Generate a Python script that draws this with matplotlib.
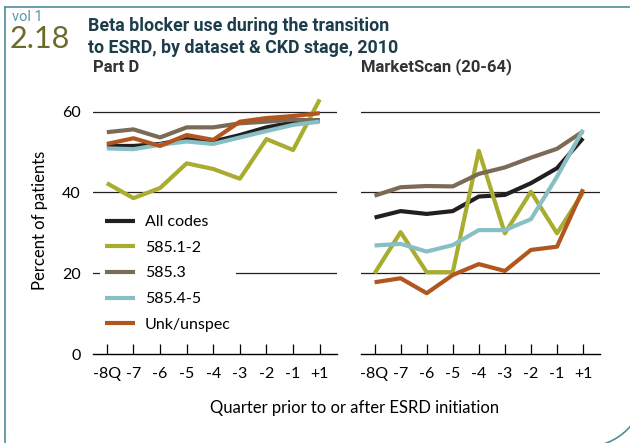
import numpy as np
import matplotlib
matplotlib.use("Agg")
import matplotlib.pyplot as plt
from matplotlib.patches import Arc
from matplotlib.lines import Line2D

# ── data ────────────────────────────────────────────────────────────
quarters = ["-8Q", "-7", "-6", "-5", "-4", "-3", "-2", "-1", "+1"]
series_names = ["All codes", "585.1-2", "585.3", "585.4-5", "Unk/unspec"]
series_colors = ["#231f20", "#a9ad2f", "#7b6a55", "#88bfc5", "#b2561f"]

partd_all = [51.5, 51.5, 52.0, 53.2, 52.6, 54.2, 56.1, 57.3, 57.9]
partd_5851 = [42.3, 38.6, 41.1, 47.2, 45.8, 43.4, 53.2, 50.5, 63.0]
partd_5853 = [54.9, 55.6, 53.6, 56.1, 56.1, 57.1, 57.5, 58.0, 57.8]
partd_5854 = [50.9, 50.7, 51.8, 52.6, 52.0, 53.6, 55.2, 56.7, 57.5]
partd_unk = [52.0, 53.4, 51.5, 54.2, 53.0, 57.5, 58.4, 58.9, 59.6]

ms_all = [33.8, 35.4, 34.7, 35.4, 39.0, 39.4, 42.3, 46.0, 53.4]
ms_5851 = [20.0, 30.2, 20.3, 20.3, 50.3, 29.9, 40.2, 29.9, 40.0]
ms_5853 = [39.2, 41.3, 41.6, 41.5, 44.6, 46.2, 48.6, 50.8, 55.1]
ms_5854 = [26.9, 27.3, 25.4, 27.0, 30.7, 30.7, 33.4, 43.9, 55.5]
ms_unk = [17.8, 18.8, 15.1, 19.6, 22.3, 20.6, 25.8, 26.6, 40.8]

yticks = [0, 20, 40, 60]

REG = ["Lato", "DejaVu Sans"]
BOLD = ["Liberation Sans Narrow", "Roboto", "DejaVu Sans"]
plt.rcParams["font.family"] = REG

fig = plt.figure(figsize=(6.3, 4.43), dpi=100)

# frame around the figure (top, left, rounded bottom-right corner)
frame_c = "#4f8e9c"
fig.add_artist(Line2D([0.05, 6.4], [4.36, 4.36], transform=fig.dpi_scale_trans, color=frame_c, lw=1.2))
fig.add_artist(Line2D([0.05, 0.05], [4.36, -0.1], transform=fig.dpi_scale_trans, color=frame_c, lw=1.2))
fig.add_artist(Arc((5.85, 0.56), 1.2, 1.2, theta1=270, theta2=360,
                   transform=fig.dpi_scale_trans, color=frame_c, lw=1.2))

# header
fig.text(12 / 630, 1 - 17 / 443, "vol 1", color="#5a9aa8", fontsize=10.5, va="center", family=BOLD)
fig.text(10 / 630, 1 - 39 / 443, "2.18", color="#6b6b2a", fontsize=22, va="center", family=REG)
fig.text(88 / 630, 1 - 37 / 443, "Beta blocker use during the transition\nto ESRD, by dataset & CKD stage, 2010",
         color="#1d3d4a", fontsize=12.8, fontweight="bold", va="center", linespacing=1.3, family=BOLD)

ax_l = fig.add_axes([93 / 630, 1 - 354.3 / 443, 244 / 630, 267 / 443])
ax_r = fig.add_axes([361 / 630, 1 - 354.3 / 443, 239 / 630, 267 / 443])

x = np.arange(len(quarters))
panels = [
    (ax_l, "Part D", [partd_all, partd_5851, partd_5853, partd_5854, partd_unk]),
    (ax_r, "MarketScan (20-64)", [ms_all, ms_5851, ms_5853, ms_5854, ms_unk]),
]

for ax, title, data in panels:
    for vals, name, col in zip(data, series_names, series_colors):
        ax.plot(x, vals, color=col, lw=3, label=name, solid_capstyle="butt", zorder=3, clip_on=False)
    for yv in yticks[1:]:
        ax.axhline(yv, color="#231f20", lw=0.9, zorder=1)
    ax.set_xlim(-0.52, 8.65)
    ax.set_ylim(0, 66)
    for s in ["top", "right", "left"]:
        ax.spines[s].set_visible(False)
    ax.spines["bottom"].set_linewidth(1.0)
    ax.set_xticks(x)
    ax.set_xticklabels(quarters, fontsize=11.5)
    ax.tick_params(axis="x", direction="in", length=7, width=0.9, pad=9)
    ax.set_yticks(yticks)
    ax.tick_params(axis="y", length=0, pad=9, labelsize=11.5)
    ax.text(0.0, 1.045, title, transform=ax.transAxes, fontsize=12, fontweight="bold",
            color="#333333", ha="left", va="bottom", family=BOLD)

ax_r.set_yticklabels([])
ax_l.set_ylabel("Percent of patients", fontsize=12, labelpad=10)

leg = ax_l.legend(loc="upper left", bbox_to_anchor=(0.03, 0.54), frameon=True, facecolor="white",
                  edgecolor="none", framealpha=1, fontsize=11.5, handlelength=1.9, handletextpad=0.6,
                  labelspacing=0.72, borderpad=0.3, borderaxespad=0)

fig.text(355 / 630, 1 - 408 / 443, "Quarter prior to or after ESRD initiation", ha="center", va="center",
         fontsize=12)

fig.savefig("out.png", dpi=100)
